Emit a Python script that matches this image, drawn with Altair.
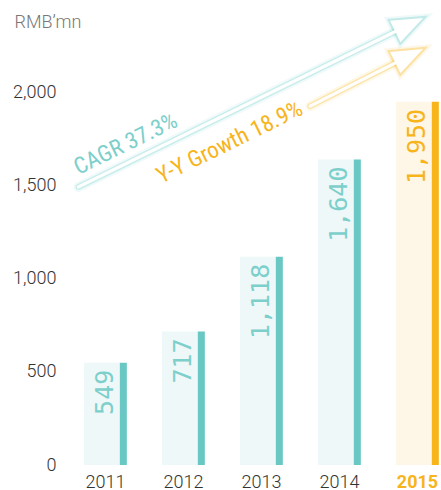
import altair as alt
import pandas as pd

# ---- data ----
years = [2011, 2012, 2013, 2014, 2015]
revenue = [549, 717, 1118, 1640, 1950]
current_year = 2015
y_ticks = [0, 500, 1000, 1500, 2000]

arrow_kind = ["cagr", "yoy"]
arrow_text = ["CAGR 37.3%", "Y-Y Growth 18.9%"]
arrow_x_start = [2010.66, 2013.63]
arrow_y_start = [1493, 1927]
arrow_x_end = [2014.9, 2014.9]
arrow_y_end = [2364, 2197]
label_x = [2010.66, 2011.72]
label_y = [1557, 1510]

# ---- styles ----
TEAL = "#69c8c3"
TEAL_LIGHT = "#eef8f8"
TEAL_TEXT = "#7dcfcb"
ORANGE = "#f8b41b"
ORANGE_LIGHT = "#fef6e7"
ARROW_TEAL = "#6fcfca"
ARROW_ORANGE = "#f9b91f"
HEAD_PATH = "M1,0L-1,-0.77L-1,0.77Z"

bars = pd.DataFrame({"year": years, "value": revenue})
arrows = pd.DataFrame({
    "kind": arrow_kind, "label": arrow_text,
    "xs": arrow_x_start, "ys": arrow_y_start,
    "xe": arrow_x_end, "ye": arrow_y_end,
    "lx": label_x, "ly": label_y,
})

xscale = alt.Scale(domain=[2010.5, 2015.295], nice=False, zero=False)
yscale = alt.Scale(domain=[0, 2443], nice=False, zero=False)

xaxis = alt.Axis(
    values=years, format="d", title=None, labelFont="Roboto", labelFontSize=18,
    labelPadding=8, ticks=False, domain=False, grid=False, labelFlush=False,
    labelColor=alt.ExprRef(expr=f"datum.value == {current_year} ? '{ORANGE}' : '#333333'"),
    labelFontWeight=alt.ExprRef(expr=f"datum.value == {current_year} ? 'bold' : 300"),
)
yaxis = alt.Axis(
    values=y_ticks, format=",d", title="RMB’mn", titleAngle=0, titleAlign="left",
    titleBaseline="alphabetic", titleX=-52, titleY=17, titleFont="Roboto",
    titleFontSize=18, titleFontWeight=300, titleColor="#777777",
    labelFont="Roboto", labelFontSize=18, labelFontWeight=300, labelColor="#333333",
    labelPadding=10, ticks=False, domain=False, grid=False, labelFlush=False,
)


def X(f):
    return alt.X(f, type="quantitative", scale=xscale, axis=xaxis)


def Y(f):
    return alt.Y(f, type="quantitative", scale=yscale, axis=yaxis)


is_cur = alt.datum.year == current_year
is_yoy = alt.datum.kind == "yoy"

base = alt.Chart(bars).transform_calculate(
    lx0="datum.year - 0.27", lx1="datum.year + 0.19", dx1="datum.year + 0.28", zero="0"
)

light = base.mark_rect().encode(
    x=X("lx0"), x2="lx1", y=Y("value"), y2="zero",
    color=alt.condition(is_cur, alt.value(ORANGE_LIGHT), alt.value(TEAL_LIGHT)),
)
dark = base.mark_rect().encode(
    x=X("lx1"), x2="dx1", y=Y("value"), y2="zero",
    color=alt.condition(is_cur, alt.value(ORANGE), alt.value(TEAL)),
)
values = base.mark_text(
    angle=270, align="right", baseline="middle", dx=-7,
    font="DejaVu Sans Mono", fontSize=25,
).encode(
    x=X("year"), y=Y("value"), text=alt.Text("value:Q", format=",d"),
    color=alt.condition(is_cur, alt.value(ORANGE), alt.value(TEAL_TEXT)),
)

abase = alt.Chart(arrows)
acolor = alt.condition(is_yoy, alt.value(ARROW_ORANGE), alt.value(ARROW_TEAL))

glow1 = abase.mark_rule(strokeCap="round", strokeWidth=10, opacity=0.1).encode(
    x=X("xs"), y=Y("ys"), x2="xe", y2="ye", color=acolor)
glow2 = abase.mark_rule(strokeCap="round", strokeWidth=6, opacity=0.3).encode(
    x=X("xs"), y=Y("ys"), x2="xe", y2="ye", color=acolor)
head_glow1 = abase.mark_point(shape=HEAD_PATH, size=961, angle=334, filled=True,
                              strokeWidth=8, opacity=0.1).encode(
    x=X("xe"), y=Y("ye"), color=acolor, stroke=acolor)
head_glow2 = abase.mark_point(shape=HEAD_PATH, size=961, angle=334, filled=True,
                              strokeWidth=4, opacity=0.35).encode(
    x=X("xe"), y=Y("ye"), color=acolor, stroke=acolor)
line_white = abase.mark_rule(strokeCap="round", strokeWidth=3.2, color="white").encode(
    x=X("xs"), y=Y("ys"), x2="xe", y2="ye")
head_white = abase.mark_point(shape=HEAD_PATH, size=961, angle=334, filled=True,
                              color="white", opacity=1).encode(
    x=X("xe"), y=Y("ye"))
atext = abase.mark_text(
    angle=334, align="left", baseline="alphabetic",
    font="Liberation Sans Narrow, Roboto Condensed, sans-serif", fontSize=23,
).encode(
    x=X("lx"), y=Y("ly"), text="label:N",
    color=alt.condition(is_yoy, alt.value(ORANGE), alt.value(TEAL_TEXT)),
)

chart = alt.layer(
    light, dark, values, glow1, glow2, head_glow1, head_glow2, line_white, head_white, atext
).properties(
    width=374, height=455, autosize="none",
    padding={"left": 66, "top": 10, "right": 1, "bottom": 25},
    background="white",
).configure_view(stroke=None)

chart.save("out.html", embed_options={"renderer": "svg", "actions": False})
